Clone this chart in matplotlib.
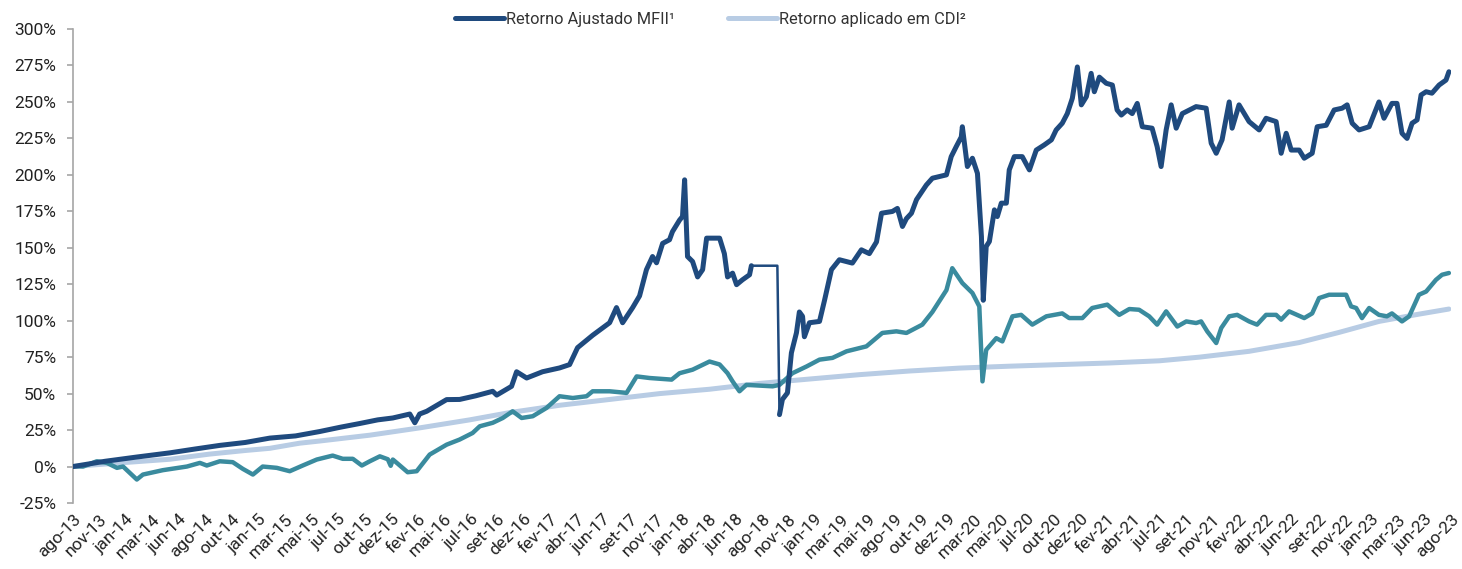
import matplotlib
matplotlib.use("Agg")
import matplotlib.pyplot as plt
import numpy as np
from matplotlib.lines import Line2D

# rótulos do eixo x (um por passo do eixo categórico)
tick_labels = ['ago-13', 'nov-13', 'jan-14', 'mar-14', 'jun-14', 'ago-14', 'out-14', 'jan-15',
               'mar-15', 'mai-15', 'jul-15', 'out-15', 'dez-15', 'fev-16', 'mai-16', 'jul-16',
               'set-16', 'dez-16', 'fev-17', 'abr-17', 'jun-17', 'set-17', 'nov-17', 'jan-18',
               'abr-18', 'jun-18', 'ago-18', 'nov-18', 'jan-19', 'mar-19', 'mai-19', 'ago-19',
               'out-19', 'dez-19', 'mar-20', 'mai-20', 'jul-20', 'out-20', 'dez-20', 'fev-21',
               'abr-21', 'jul-21', 'set-21', 'nov-21', 'fev-22', 'abr-22', 'jun-22', 'set-22',
               'nov-22', 'jan-23', 'mar-23', 'jun-23', 'ago-23']

# Retorno Ajustado MFII (posição em passos de rótulo, retorno em %)
mfii_idx = [0.00, 1.21, 2.40, 3.66, 4.60, 5.54, 6.50, 7.43, 8.40, 9.31, 10.10, 10.82, 11.50,
            12.07, 12.71, 12.90, 13.08, 13.35, 14.10, 14.59, 15.20, 15.84, 15.99, 16.55,
            16.74, 17.12, 17.72, 18.36, 18.74, 19.04, 19.61, 20.25, 20.51, 20.74, 21.12,
            21.38, 21.64, 21.87, 22.02, 22.25, 22.51, 22.62, 22.89, 23.00, 23.08, 23.19,
            23.38, 23.57, 23.76, 23.91, 24.40, 24.58, 24.70, 24.89, 25.04, 25.26, 25.53,
            25.60, 26.58, 26.66, 26.77, 26.96, 27.11, 27.30, 27.41, 27.53, 27.60, 27.79,
            28.17, 28.36, 28.62, 28.92, 29.41, 29.75, 30.05, 30.32, 30.51, 30.92, 31.11,
            31.30, 31.45, 31.64, 31.83, 32.20, 32.43, 32.96, 33.14, 33.33, 33.52, 33.56,
            33.75, 33.94, 34.13, 34.28, 34.35, 34.46, 34.58, 34.77, 34.88, 35.03, 35.22,
            35.33, 35.52, 35.82, 36.09, 36.35, 36.65, 36.92, 37.10, 37.33, 37.52, 37.71,
            37.90, 38.05, 38.24, 38.42, 38.54, 38.73, 38.99, 39.22, 39.40, 39.56, 39.78,
            39.97, 40.16, 40.35, 40.72, 40.91, 41.06, 41.25, 41.44, 41.63, 41.86, 42.38,
            42.76, 42.95, 43.14, 43.36, 43.63, 43.74, 44.00, 44.38, 44.76, 45.02, 45.40,
            45.59, 45.78, 45.97, 46.27, 46.46, 46.76, 46.95, 47.29, 47.59, 47.89, 48.08,
            48.27, 48.53, 48.91, 49.28, 49.47, 49.77, 49.96, 50.15, 50.34, 50.53, 50.72,
            50.87, 51.06, 51.28, 51.55, 51.81, 51.92]
mfii_ret = [0.0, 3.6, 6.5, 9.4, 12.0, 14.5, 16.5, 19.5, 21.0, 24.0, 27.0, 29.5, 32.0,
            33.3, 36.0, 30.0, 36.0, 37.9, 45.9, 46.0, 48.5, 51.6, 49.0, 55.0,
            65.0, 60.7, 65.0, 67.6, 69.9, 81.5, 90.0, 98.6, 109.0, 98.6, 109.0,
            117.0, 135.0, 144.0, 139.7, 153.0, 155.5, 161.0, 169.0, 171.4, 196.6, 144.0,
            140.6, 130.0, 135.0, 156.6, 156.6, 146.0, 130.0, 132.6, 124.7, 128.0, 131.5,
            137.7, 137.7, 35.6, 46.0, 50.5, 78.0, 91.7, 106.0, 103.0, 89.0, 98.6,
            99.5, 114.0, 135.0, 141.8, 139.5, 148.6, 146.0, 154.0, 173.7, 174.9, 177.0,
            164.6, 170.0, 173.7, 183.0, 193.0, 197.7, 200.0, 212.5, 219.4, 226.0, 233.0,
            205.7, 211.4, 201.0, 157.7, 114.0, 150.9, 154.3, 176.0, 171.4, 180.6, 180.6,
            203.4, 212.5, 212.5, 203.4, 217.0, 220.5, 224.0, 230.8, 235.4, 242.0, 252.5,
            274.0, 248.0, 253.6, 269.6, 257.0, 267.0, 262.8, 261.6, 244.5, 241.0, 244.5,
            242.0, 249.0, 233.0, 232.0, 219.4, 205.7, 230.8, 248.0, 232.0, 242.0, 246.8,
            245.7, 221.7, 214.8, 224.0, 250.0, 232.0, 248.0, 236.5, 230.8, 238.8, 236.5,
            214.8, 228.5, 217.0, 217.0, 211.4, 214.8, 233.0, 234.0, 244.5, 245.7, 248.0,
            235.4, 230.8, 233.0, 250.0, 238.8, 249.0, 249.0, 228.5, 225.0, 235.4, 237.7,
            254.8, 257.0, 256.0, 261.6, 265.0, 270.7]

# série sem legenda (verde-azulada)
teal_idx = [0.00, 0.38, 0.90, 1.28, 1.66, 1.89, 2.41, 2.64, 3.39, 4.30, 4.79, 5.05, 5.54,
            6.03, 6.41, 6.79, 7.16, 7.69, 8.18, 8.67, 9.20, 9.80, 10.18, 10.56, 10.90,
            11.20, 11.58, 11.88, 11.99, 12.07, 12.22, 12.63, 12.97, 13.46, 14.10, 14.59,
            15.08, 15.35, 15.84, 16.22, 16.59, 16.93, 17.35, 17.87, 18.36, 18.86, 19.38,
            19.61, 20.25, 20.89, 21.27, 21.76, 22.59, 22.89, 23.38, 24.02, 24.40, 24.70,
            24.89, 25.15, 25.41, 26.40, 26.66, 27.15, 27.68, 28.17, 28.66, 29.19, 29.94,
            30.54, 31.07, 31.45, 32.05, 32.43, 32.96, 33.18, 33.56, 33.94, 34.20, 34.32,
            34.46, 34.84, 35.07, 35.45, 35.78, 36.20, 36.73, 37.33, 37.59, 38.09, 38.46,
            39.03, 39.48, 39.86, 40.23, 40.61, 40.91, 41.25, 41.67, 42.01, 42.38, 42.57,
            42.80, 43.14, 43.33, 43.63, 43.93, 44.38, 44.68, 45.02, 45.40, 45.59, 45.89,
            46.46, 46.76, 47.02, 47.40, 48.04, 48.23, 48.42, 48.64, 48.91, 49.28, 49.58,
            49.77, 50.15, 50.42, 50.79, 51.06, 51.43, 51.66, 51.92]
teal_ret = [0.2, 0.0, 3.6, 2.5, -0.9, 0.0, -8.9, -5.5, -2.5, 0.0, 2.5, 0.7, 3.6,
            3.0, -1.6, -5.5, 0.0, -0.9, -3.2, 0.7, 4.8, 7.5, 5.3, 5.3, 0.7,
            3.6, 7.0, 5.0, 0.5, 4.8, 2.5, -3.9, -3.2, 8.2, 15.0, 18.5,
            23.0, 27.6, 30.0, 33.3, 37.9, 33.3, 34.5, 40.2, 48.2, 47.0, 48.2,
            51.6, 51.6, 50.5, 61.8, 60.7, 59.6, 64.0, 66.4, 72.0, 70.0, 64.0,
            58.4, 51.6, 56.0, 55.0, 56.0, 64.0, 68.6, 73.3, 74.5, 79.0, 82.4,
            91.6, 92.7, 91.6, 97.3, 106.0, 121.0, 136.0, 125.8, 119.0, 109.8, 58.4,
            80.0, 88.0, 85.8, 103.0, 104.0, 97.3, 103.0, 105.0, 101.8, 101.8, 108.7,
            111.0, 104.0, 108.0, 107.5, 103.0, 97.3, 106.4, 96.0, 99.5, 98.4, 99.5,
            92.7, 84.7, 95.0, 103.0, 104.0, 99.5, 97.3, 104.0, 104.0, 100.7, 106.4,
            101.8, 105.0, 115.5, 117.8, 117.8, 109.8, 108.7, 101.8, 108.7, 104.0, 103.0,
            105.0, 99.5, 103.0, 117.8, 120.0, 128.0, 131.5, 132.7]

# Retorno aplicado em CDI
cdi_idx = [0.00, 1.77, 2.90, 3.66, 5.14, 6.50, 7.43, 8.55, 9.31, 11.20, 13.08, 14.97, 16.48,
           18.36, 20.25, 22.13, 24.02, 25.91, 27.79, 29.68, 31.56, 33.45, 35.33, 37.22,
           39.10, 40.99, 42.50, 44.38, 46.27, 47.78, 49.28, 50.79, 51.92]
cdi_ret = [0.0, 2.5, 4.0, 5.0, 8.5, 11.0, 12.5, 16.0, 17.5, 21.5, 26.5, 32.0, 37.0,
           42.0, 46.0, 50.0, 53.0, 57.0, 60.0, 63.0, 65.5, 67.5, 68.8, 69.9,
           71.0, 72.5, 75.0, 79.0, 85.0, 92.0, 99.5, 104.5, 108.0]

navy = '#1F4A7E'
teal = '#3A8B9E'
light = '#B8CCE4'

plt.rcParams['font.family'] = ['Roboto', 'DejaVu Sans']

fig = plt.figure(figsize=(14.62, 5.69), dpi=100)
ax = fig.add_axes([0.0499, 0.116, 0.9426, 0.833])

ax.plot(cdi_idx, cdi_ret, color=light, lw=3.6, solid_capstyle='round', zorder=2)
ax.plot(teal_idx, teal_ret, color=teal, lw=3.2, solid_capstyle='round',
        solid_joinstyle='round', zorder=3)

# trecho sem cotação (linha fina) entre jun-18 e nov-18
mx = np.array(mfii_idx)
my = np.array(mfii_ret)
gap_start, gap_end = 25.60, 26.66
before = mx <= gap_start
gap = (mx >= gap_start) & (mx <= gap_end)
after = mx >= gap_end
ax.plot(mx[before], my[before], color=navy, lw=3.6, solid_capstyle='round',
        solid_joinstyle='round', zorder=4)
ax.plot(mx[gap], my[gap], color=navy, lw=1.8, zorder=4)
ax.plot(mx[after], my[after], color=navy, lw=3.6, solid_capstyle='round',
        solid_joinstyle='round', zorder=4)

ax.set_xlim(0, 52)
ax.set_ylim(-25, 300)
ax.set_yticks(np.arange(-25, 301, 25))
ax.set_yticklabels([f'{v}%' for v in range(-25, 301, 25)], fontsize=12.5, color='#222222')
ax.set_xticks(range(len(tick_labels)))
ax.set_xticklabels(tick_labels, rotation=45, ha='right', va='top',
                   rotation_mode='anchor', fontsize=12.5, color='#222222')

for s in ['top', 'right', 'bottom']:
    ax.spines[s].set_visible(False)
ax.spines['left'].set_color('#A6A6A6')
ax.spines['left'].set_linewidth(1.2)
ax.tick_params(axis='y', length=4, width=1.2, color='#A6A6A6', pad=8)
ax.tick_params(axis='x', length=0, pad=6)

handles = [Line2D([], [], color=navy, lw=3.6, solid_capstyle='round'),
           Line2D([], [], color=light, lw=3.6, solid_capstyle='round')]
leg = fig.legend(handles, ['Retorno Ajustado MFII¹', 'Retorno aplicado em CDI²'],
                 loc='center', bbox_to_anchor=(0.486, 0.966), ncol=2, frameon=False,
                 fontsize=11.8, handlelength=3.0, handletextpad=0.15, columnspacing=3.2)
for t in leg.get_texts():
    t.set_color('#333333')

fig.savefig('out.png', dpi=100)
